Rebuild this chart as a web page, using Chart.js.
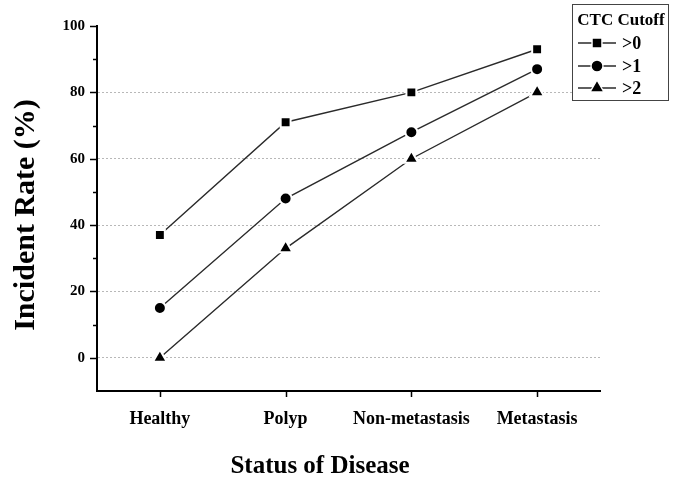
<!DOCTYPE html>
<html>
<head>
<meta charset="utf-8">
<script src="https://cdn.jsdelivr.net/npm/chart.js@4.4.1/dist/chart.umd.min.js"></script>
<style>
  html, body { margin: 0; padding: 0; background: #fff; }
  canvas { display: block; }
</style>
</head>
<body>
<canvas id="c" width="685" height="493"></canvas>
<script>
// ---- data ----
const categories = ['Healthy', 'Polyp', 'Non-metastasis', 'Metastasis'];
const cutoffOver0 = [37, 71, 80, 93];
const cutoffOver1 = [15, 48, 68, 87];
const cutoffOver2 = [0, 33, 60, 80];
const seriesLabels = ['>0', '>1', '>2'];
const yTickLabels = [0, 20, 40, 60, 80, 100];
const gridValues = [0, 20, 40, 60, 80];
const legendTitle = 'CTC Cutoff';
const xTitle = 'Status of Disease';
const yTitle = 'Incident Rate (%)';

const SERIF = '"Liberation Serif", "Times New Roman", serif';
const LINE = '#2a2a2a';

function ds(label, data, style, radius) {
  return {
    label, data,
    borderColor: LINE, borderWidth: 1.4, tension: 0,
    pointStyle: style, pointRadius: radius, pointHoverRadius: radius,
    pointBackgroundColor: '#000', pointBorderColor: '#fff', pointBorderWidth: 2,
    clip: false
  };
}

const extras = {
  id: 'extras',
  afterDraw(chart) {
    const ctx = chart.ctx;
    const y = chart.scales.y, x = chart.scales.x;
    const left = chart.chartArea.left, bottom = chart.chartArea.bottom;
    ctx.save();
    ctx.strokeStyle = '#000';
    ctx.lineWidth = 1.5;
    // y ticks: major every 20, minor between
    for (let v = 0; v <= 100; v += 10) {
      const py = Math.round(y.getPixelForValue(v)) + 0.5;
      const len = (v % 20 === 0) ? 7 : 4;
      ctx.beginPath(); ctx.moveTo(left - len, py); ctx.lineTo(left, py); ctx.stroke();
    }
    // x ticks
    categories.forEach((c, i) => {
      const px = Math.round(x.getPixelForValue(i)) + 0.5;
      ctx.beginPath(); ctx.moveTo(px, bottom); ctx.lineTo(px, bottom + 6); ctx.stroke();
    });
    // axis titles
    ctx.fillStyle = '#000';
    ctx.textAlign = 'center';
    ctx.textBaseline = 'middle';
    ctx.font = 'bold 25px ' + SERIF;
    ctx.fillText(xTitle, 320, 467);
    ctx.save();
    ctx.translate(26, 215);
    ctx.rotate(-Math.PI / 2);
    ctx.font = 'bold 30px ' + SERIF;
    ctx.fillText(yTitle, 0, 0);
    ctx.restore();

    // legend
    const bx = 572, by = 4, bw = 96, bh = 96;
    ctx.fillStyle = '#fff';
    ctx.fillRect(bx, by, bw, bh);
    ctx.strokeStyle = '#444';
    ctx.lineWidth = 1;
    ctx.strokeRect(bx + 0.5, by + 0.5, bw, bh);
    ctx.fillStyle = '#000';
    ctx.font = 'bold 17px ' + SERIF;
    ctx.textAlign = 'center';
    ctx.fillText(legendTitle, bx + bw / 2 + 1, 21);
    const rows = [43, 66, 88];
    chart.data.datasets.forEach((d, i) => {
      const ry = rows[i];
      ctx.strokeStyle = LINE;
      ctx.lineWidth = 1.4;
      ctx.beginPath(); ctx.moveTo(578, ry); ctx.lineTo(616, ry); ctx.stroke();
      ctx.fillStyle = '#000';
      ctx.strokeStyle = '#fff';
      Chart.helpers.drawPoint(ctx, {pointStyle: d.pointStyle, radius: d.pointRadius, rotation: 0, borderWidth: 2}, 597, ry);
      ctx.fillStyle = '#000';
      ctx.font = 'bold 18px ' + SERIF;
      ctx.textAlign = 'left';
      ctx.fillText(d.label, 622, ry + 1);
    });
    ctx.restore();
  }
};

new Chart(document.getElementById('c'), {
  type: 'line',
  data: {
    labels: categories,
    datasets: [
      ds(seriesLabels[0], cutoffOver0, 'rect', 7),
      ds(seriesLabels[1], cutoffOver1, 'circle', 6),
      ds(seriesLabels[2], cutoffOver2, 'triangle', 8)
    ]
  },
  options: {
    responsive: false,
    animation: false,
    layout: { padding: { left: 0, top: 26, right: 85, bottom: 0 } },
    plugins: { legend: { display: false }, tooltip: { enabled: false }, title: { display: false } },
    scales: {
      x: {
        type: 'category',
        offset: true,
        afterFit(s) { s.height = 102; },
        grid: { display: true, color: 'rgba(0,0,0,0)', drawTicks: false },
        border: { display: true, color: '#000', width: 2 },
        ticks: { color: '#000', padding: 18, font: { family: SERIF, weight: 'bold', size: 18 }, maxRotation: 0, autoSkip: false }
      },
      y: {
        min: -10, max: 100,
        afterFit(s) { s.width = 97; },
        afterBuildTicks(s) {
          const t = [];
          for (let v = -10; v <= 100; v += 10) t.push({ value: v });
          s.ticks = t;
        },
        grid: {
          drawTicks: false,
          color: (c) => (c.tick && gridValues.includes(c.tick.value)) ? '#b8b8b8' : 'rgba(0,0,0,0)',
          lineWidth: 1
        },
        border: { display: true, color: '#000', width: 2, dash: [2, 2] },
        ticks: {
          color: '#000', padding: 12,
          font: { family: SERIF, weight: 'bold', size: 15 },
          callback: (v) => yTickLabels.includes(v) ? String(v) : ''
        }
      }
    }
  },
  plugins: [extras]
});
</script>
</body>
</html>
